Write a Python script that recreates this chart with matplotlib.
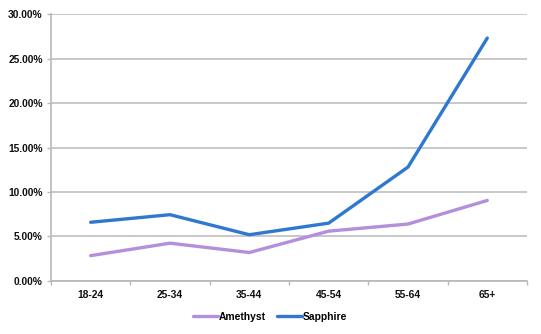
import matplotlib
matplotlib.use("Agg")
import matplotlib.pyplot as plt
from matplotlib.ticker import FuncFormatter, MultipleLocator

categories = ["18-24", "25-34", "35-44", "45-54", "55-64", "65+"]
amethyst = [2.85, 4.25, 3.2, 5.6, 6.4, 9.05]
sapphire = [6.6, 7.45, 5.2, 6.5, 12.8, 27.3]

plt.rcParams["font.family"] = ["Liberation Sans", "DejaVu Sans"]
plt.rcParams["font.weight"] = "bold"

fig = plt.figure(figsize=(5.41, 3.34), dpi=100)
ax = fig.add_axes([0.0943, 0.1587, 0.8797, 0.7993])

x = range(len(categories))
ax.plot(x, amethyst, color="#b48fdc", lw=2.4, label="Amethyst", solid_capstyle="round")
ax.plot(x, sapphire, color="#2f78cf", lw=2.4, label="Sapphire", solid_capstyle="round")

ax.set_xlim(-0.5, len(categories) - 0.5)
ax.set_ylim(0, 30)
ax.yaxis.set_major_locator(MultipleLocator(5))
ax.yaxis.set_major_formatter(FuncFormatter(lambda v, p: f"{v:.2f}%"))
ax.set_xticks([i - 0.5 for i in range(len(categories) + 1)], minor=False)
ax.set_xticklabels([])
ax.set_xticks(list(x), minor=True)
ax.set_xticklabels(categories, minor=True)
ax.tick_params(axis="x", which="minor", length=0, pad=6.5)
ax.tick_params(axis="x", which="major", length=3, color="#b8b8b8", width=1)
ax.tick_params(axis="y", length=3, color="#b8b8b8", width=1, pad=3)
for lbl in ax.get_xticklabels(minor=True) + ax.get_yticklabels():
    lbl.set_fontsize(7.4)
    lbl.set_fontweight("bold")
    lbl.set_color("#111111")

ax.grid(axis="y", color="#c4c4c4", lw=1.3)
ax.set_axisbelow(True)
for s in ["top", "right"]:
    ax.spines[s].set_visible(False)
for s in ["left", "bottom"]:
    ax.spines[s].set_color("#b8b8b8")
    ax.spines[s].set_linewidth(1.2)

fig.legend(loc="center", bbox_to_anchor=(0.5, 0.052), ncol=2, frameon=False,
           handlelength=2.4, handletextpad=0.1, columnspacing=1.1,
           prop={"size": 7.4, "weight": "bold"})

fig.savefig("out.png", dpi=100)
